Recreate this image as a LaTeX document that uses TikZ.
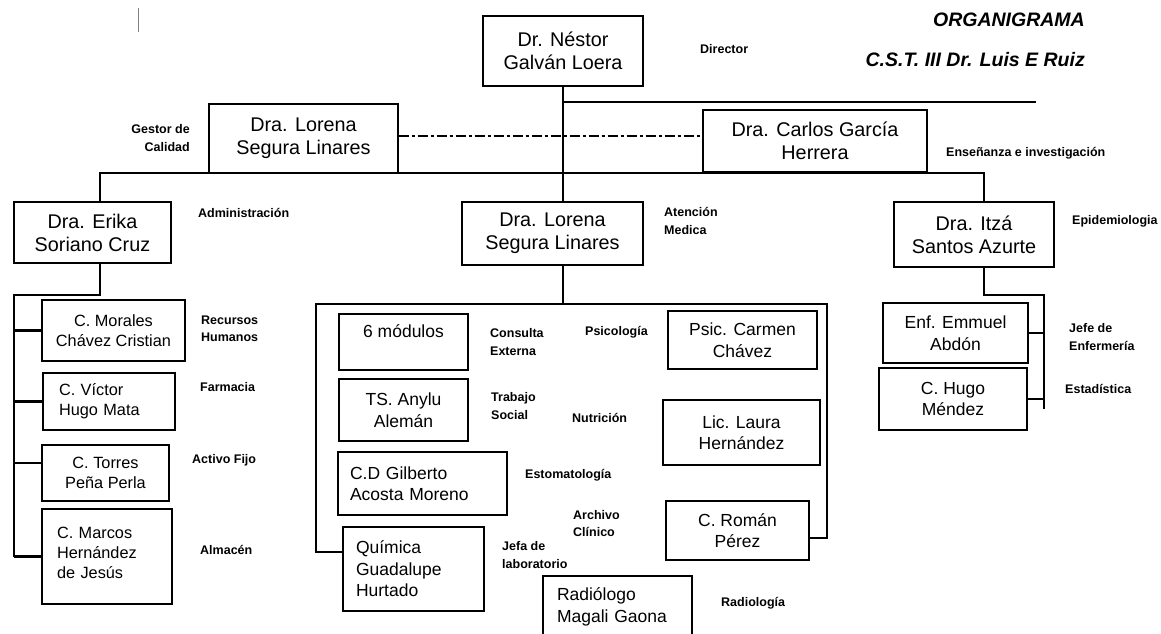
\documentclass[tikz,border=0pt]{standalone}
\usepackage{fontspec}
\setmainfont{Liberation Sans}
\usetikzlibrary{positioning}

\begin{document}
\begin{tikzpicture}[x=1pt, y=-1pt,
    chief/.style={draw, line width=1.1pt, inner sep=0pt, align=center, font=\fontsize{19.8}{23}\selectfont},
    unit/.style={draw, line width=1.1pt, inner sep=0pt, align=center, font=\fontsize{17.5}{21.5}\selectfont},
    staff/.style={draw, line width=1.1pt, inner sep=0pt, align=center, font=\fontsize{16.3}{20}\selectfont},
    area/.style={inner sep=0pt, anchor=west, align=left, font=\fontsize{12.5}{17.5}\selectfont\bfseries},
    heading/.style={inner sep=0pt, anchor=east, font=\fontsize{19.5}{23}\selectfont\bfseries\itshape},
    link/.style={line width=2.4pt},
    thinlink/.style={line width=1.4pt}
]
\path[fill=white, use as bounding box] (0,0) rectangle (1161,634);

% title
\node[heading] (title) at (1085,20) {ORGANIGRAMA};
\node[heading] (centre) at (1085,60) {C.S.T. III Dr. Luis E Ruiz};
\draw[gray, line width=1pt] (138,8) -- (138,32);

% top levels
\node[chief, minimum width=160pt, minimum height=70pt] (director) at (563,51) {Dr. Néstor\\Galván Loera};
\node[chief, minimum width=189pt, minimum height=69pt] (lorenaGC) at (303.5,138.5) {Dra. Lorena\\Segura Linares};
\node[chief, minimum width=224pt, minimum height=62pt] (carlos) at (815,141) {Dra. Carlos García\\Herrera};
\node[chief, minimum width=157pt, minimum height=61pt] (erika) at (92.5,232.5) {Dra. Erika\\Soriano Cruz};
\node[chief, minimum width=181pt, minimum height=63pt] (lorenaAM) at (552.5,233.5) {Dra. Lorena\\Segura Linares};
\node[chief, minimum width=160pt, minimum height=65pt] (itza) at (974,234.5) {Dra. Itzá\\Santos Azurte};

% administracion
\node[staff, minimum width=143pt, minimum height=61pt] (morales) at (113.5,330.5) {C. Morales\\Chávez Cristian};
\node[staff, align=left, text width=100pt, inner xsep=16pt, minimum height=57pt] (victor) at (109,401.5) {C. Víctor\\Hugo Mata};
\node[staff, minimum width=127pt, minimum height=56pt] (torres) at (105.5,473) {C. Torres\\Peña Perla};
\node[staff, align=left, text width=100pt, inner xsep=15pt, minimum height=95pt] (marcos) at (107,556.5) {C. Marcos\\Hernández\\de Jesús\\[-12pt]~};

% atencion medica
\node[unit, minimum width=129pt, minimum height=56pt] (modulos) at (403.5,342) {6 módulos\\ ~};
\node[unit, minimum width=129pt, minimum height=62pt] (anylu) at (403.5,410) {TS. Anylu\\Alemán};
\node[unit, align=left, text width=145pt, inner xsep=12pt, minimum height=63pt] (gilberto) at (422.5,483.5) {C.D Gilberto\\Acosta Moreno};
\node[unit, align=left, text width=115pt, inner xsep=13pt, minimum height=84pt] (quimica) at (413.5,569) {Química\\Guadalupe\\Hurtado};
\node[unit, minimum width=149pt, minimum height=58pt] (psic) at (742.5,340) {Psic. Carmen\\Chávez};
\node[unit, minimum width=157pt, minimum height=65pt] (laura) at (741.5,432.5) {Lic. Laura\\Hernández};
\node[unit, minimum width=143pt, minimum height=59pt] (roman) at (737.5,530.5) {C. Román\\Pérez};
\node[unit, align=left, text width=121pt, inner xsep=14pt, minimum height=62pt] (radio) at (617.5,607) {Radiólogo\\Magali Gaona};

% epidemiologia
\node[unit, minimum width=145pt, minimum height=60pt] (enf) at (955.5,333) {Enf. Emmuel\\Abdón};
\node[unit, minimum width=148pt, minimum height=62pt] (hugo) at (953,399) {C. Hugo\\Méndez};

% area labels
\node[area] (dirlbl) at (700,49) {Director};
\node[area, anchor=east, align=right] (gclbl) at (190,138) {Gestor de\\Calidad};
\node[area] (enslbl) at (946,153) {Enseñanza e investigación};
\node[area] (admlbl) at (198,213) {Administración};
\node[area] (amlbl) at (664,221) {Atención\\Medica};
\node[area] (epilbl) at (1072,221) {Epidemiologia};
\node[area] (rhlbl) at (201,329) {Recursos\\Humanos};
\node[area] (farlbl) at (200,387) {Farmacia};
\node[area] (aflbl) at (192,460) {Activo Fijo};
\node[area] (almlbl) at (200,550) {Almacén};
\node[area] (celbl) at (490,342) {Consulta\\Externa};
\node[area] (psilbl) at (585,332) {Psicología};
\node[area] (tslbl) at (491,406) {Trabajo\\Social};
\node[area] (nutlbl) at (572,418) {Nutrición};
\node[area] (estlbl) at (525,475) {Estomatología};
\node[area] (aclbl) at (573,523.5) {Archivo\\Clínico};
\node[area] (lablbl) at (502,555) {Jefa de\\laboratorio};
\node[area] (radlbl) at (721,603) {Radiología};
\node[area] (enflbl) at (1069,337) {Jefe de\\Enfermería};
\node[area] (estalbl) at (1065,389) {Estadística};

% connectors
\coordinate (topR) at (1036,102);
\coordinate (busL) at (100,173);
\coordinate (busR) at (984,173);
\coordinate (admL) at (14,295);
\coordinate (frL) at (316,304);
\coordinate (frR) at (827,304);
\coordinate (epiR) at (1044,295);
\coordinate (epiEnd) at (1044,409);

\draw[link] (director.south) -- (director.south |- lorenaAM.north);
\draw[link] (director.south |- lorenaAM.south) -- (director.south |- frL);
\draw[thinlink] (director.south |- topR) -- (topR);
\draw[line width=2pt, dash pattern=on 10pt off 3pt on 3pt off 3pt] ([yshift=2.5pt]lorenaGC.east) -- ([yshift=2.5pt]lorenaGC.east -| carlos.west);
\draw[link] (busL |- erika.north) -- (busL) -- (busR) -- (busR |- itza.north);

% administracion branch
\draw[link] (busL |- erika.south) |- (admL) -- (admL |- marcos.west);
\foreach \n in {morales,victor,marcos}
    \draw[link] (\n.west) -- (\n.west -| admL);
\draw[link] ([yshift=10pt]torres.west) -- ([yshift=10pt]torres.west -| admL);

% atencion medica frame
\draw[link] ([yshift=17pt]quimica.west) -| (frL) -- (frR) |- ([yshift=-7.5pt]roman.east);

% epidemiologia branch
\draw[link] (busR |- itza.south) |- (epiR) -- (epiEnd);
\foreach \n in {enf,hugo}
    \draw[link] (\n.east) -- (\n.east -| epiR);

\end{tikzpicture}
\end{document}
